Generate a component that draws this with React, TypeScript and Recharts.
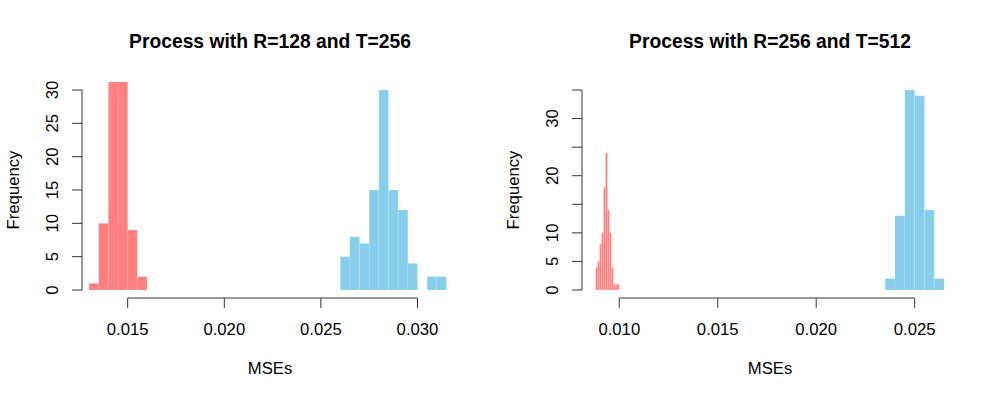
import { ComposedChart, Label, ReferenceArea, ReferenceLine, XAxis, YAxis } from "recharts";

const FONT = '"Liberation Sans", Arial, Helvetica, sans-serif';
const RED = "#ff7f7f";
const BLUE = "#87ceeb";
const AXIS = "#333333";

// panel 1: R=128, T=256 (two tallest red bins run past the top and get clipped)
const P1_RED_BREAKS = [0.013, 0.0135, 0.014, 0.0145, 0.015, 0.0155, 0.016];
const P1_RED_COUNTS = [1, 10, 40, 38, 9, 2];
const P1_BLUE_BREAKS = [0.026, 0.0265, 0.027, 0.0275, 0.028, 0.0285, 0.029, 0.0295, 0.03, 0.0305, 0.031, 0.0315];
const P1_BLUE_COUNTS = [5, 8, 7, 15, 30, 15, 12, 4, 0, 2, 2];
const P1_X_TICKS = [0.015, 0.02, 0.025, 0.03];
const P1_Y_TICKS = [0, 5, 10, 15, 20, 25, 30];

// panel 2: R=256, T=512
const P2_RED_BREAKS = [0.0088, 0.0089, 0.009, 0.0091, 0.0092, 0.0093, 0.0094, 0.0095, 0.0096, 0.0097, 0.0098, 0.0099, 0.01];
const P2_RED_COUNTS = [4, 5, 8, 10, 18, 24, 14, 10, 4, 1, 1, 1];
const P2_BLUE_BREAKS = [0.0235, 0.024, 0.0245, 0.025, 0.0255, 0.026, 0.0265];
const P2_BLUE_COUNTS = [2, 13, 35, 34, 14, 2];
const P2_X_TICKS = [0.01, 0.015, 0.02, 0.025];
const P2_Y_TICKS = [0, 5, 10, 15, 20, 25, 30, 35];
const P2_Y_LABELS = [0, 5, 10, 20, 30];

function bars(breaks: number[], counts: number[], color: string, id: string) {
  return counts.map((c, i) => (
    <ReferenceArea
      key={`${id}-${i}`}
      x1={breaks[i]}
      x2={breaks[i + 1]}
      y1={0}
      y2={c}
      fill={color}
      fillOpacity={1}
      stroke="#ffffff"
      strokeOpacity={0.22}
      strokeWidth={0.6}
      ifOverflow="hidden"
    />
  ));
}

function XTick({ x, y, payload }: any) {
  return (
    <g>
      <line x1={x} x2={x} y1={y} y2={y + 10} stroke={AXIS} />
      <text x={x} y={y + 37} textAnchor="middle" fontSize={16.7} fontFamily={FONT} fill="#000">
        {payload.value.toFixed(3)}
      </text>
    </g>
  );
}

function makeYTick(shown?: number[]) {
  return ({ x, y, payload }: any) => {
    const show = !shown || shown.includes(payload.value);
    return (
      <g>
        <line x1={x - 10} x2={x} y1={y} y2={y} stroke={AXIS} />
        {show && (
          <text
            x={x - 24}
            y={y}
            transform={`rotate(-90, ${x - 24}, ${y})`}
            textAnchor="middle"
            fontSize={16.7}
            fontFamily={FONT}
            fill="#000"
          >
            {payload.value}
          </text>
        )}
      </g>
    );
  };
}

type PanelProps = {
  title: string;
  xDomain: [number, number];
  yDomain: [number, number];
  xTicks: number[];
  yTicks: number[];
  yLabels?: number[];
  red: [number[], number[]];
  blue: [number[], number[]];
};

function Panel({ title, xDomain, yDomain, xTicks, yTicks, yLabels, red, blue }: PanelProps) {
  return (
    <div style={{ position: "relative", width: 500, height: 400 }}>
      <ComposedChart width={500} height={400} margin={{ top: 82, right: 42, bottom: 0, left: 0 }}>
        <XAxis
          type="number"
          dataKey="x"
          domain={xDomain}
          allowDataOverflow
          ticks={xTicks}
          interval={0}
          axisLine={false}
          tickLine={false}
          tickSize={0}
          tickMargin={0}
          height={102}
          tick={<XTick />}
        >
          <Label
            content={({ viewBox }: any) => (
              <text
                x={viewBox.x + viewBox.width / 2}
                y={viewBox.y + 76}
                textAnchor="middle"
                fontSize={16.7}
                fontFamily={FONT}
                fill="#000"
              >
                MSEs
              </text>
            )}
          />
        </XAxis>
        <YAxis
          type="number"
          domain={yDomain}
          allowDataOverflow
          ticks={yTicks}
          interval={0}
          axisLine={false}
          tickLine={false}
          tickSize={0}
          tickMargin={0}
          width={82}
          tick={makeYTick(yLabels)}
        >
          <Label
            content={({ viewBox }: any) => {
              const cx = viewBox.x + 19;
              const cy = viewBox.y + viewBox.height / 2;
              return (
                <text
                  x={cx}
                  y={cy}
                  transform={`rotate(-90, ${cx}, ${cy})`}
                  textAnchor="middle"
                  fontSize={16.7}
                  fontFamily={FONT}
                  fill="#000"
                >
                  Frequency
                </text>
              );
            }}
          />
        </YAxis>
        {bars(red[0], red[1], RED, "red")}
        {bars(blue[0], blue[1], BLUE, "blue")}
        <ReferenceLine
          segment={[
            { x: xTicks[0], y: yDomain[0] },
            { x: xTicks[xTicks.length - 1], y: yDomain[0] },
          ]}
          stroke={AXIS}
          ifOverflow="visible"
        />
        <ReferenceLine
          segment={[
            { x: xDomain[0], y: yTicks[0] },
            { x: xDomain[0], y: yTicks[yTicks.length - 1] },
          ]}
          stroke={AXIS}
          ifOverflow="visible"
        />
      </ComposedChart>
      <svg width={500} height={82} style={{ position: "absolute", left: 0, top: 0 }}>
        <text x={270} y={48} textAnchor="middle" fontSize={19.3} fontWeight="bold" fontFamily={FONT} fill="#000">
          {title}
        </text>
      </svg>
    </div>
  );
}

export default function App() {
  return (
    <div style={{ position: "absolute", left: 0, top: 0, width: 1000, height: 400, display: "flex", background: "#fff" }}>
      <Panel
        title="Process with R=128 and T=256"
        xDomain={[0.012635, 0.032096]}
        yDomain={[-1.2, 31.2]}
        xTicks={P1_X_TICKS}
        yTicks={P1_Y_TICKS}
        red={[P1_RED_BREAKS, P1_RED_COUNTS]}
        blue={[P1_BLUE_BREAKS, P1_BLUE_COUNTS]}
      />
      <Panel
        title="Process with R=256 and T=512"
        xDomain={[0.008106, 0.027202]}
        yDomain={[-1.4, 36.4]}
        xTicks={P2_X_TICKS}
        yTicks={P2_Y_TICKS}
        yLabels={P2_Y_LABELS}
        red={[P2_RED_BREAKS, P2_RED_COUNTS]}
        blue={[P2_BLUE_BREAKS, P2_BLUE_COUNTS]}
      />
    </div>
  );
}
